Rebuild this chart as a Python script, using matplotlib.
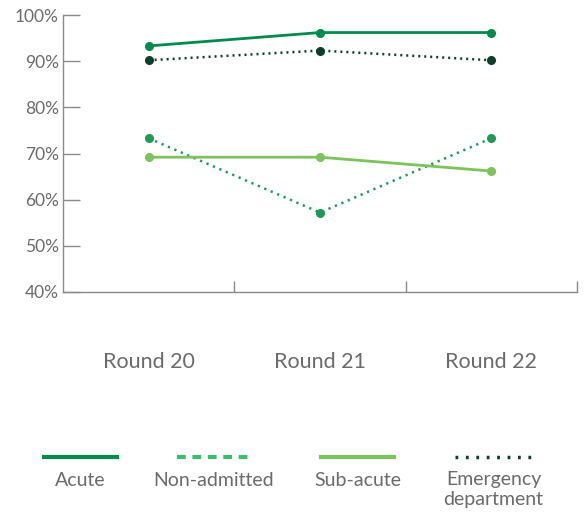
import matplotlib
matplotlib.use("Agg")
import matplotlib.pyplot as plt
from matplotlib.lines import Line2D

rounds = ["Round 20", "Round 21", "Round 22"]
acute = [93.3, 96.2, 96.2]
non_admitted = [73.3, 57.2, 73.3]
sub_acute = [69.2, 69.2, 66.2]
emergency = [90.2, 92.3, 90.2]
y_ticks = [40, 50, 60, 70, 80, 90, 100]
legend_labels = ["Acute", "Non-admitted", "Sub-acute", "Emergency\ndepartment"]

c_acute = "#038a4c"
c_non = "#1f9a55"
c_non_leg = "#3dbb6e"
c_sub = "#7cc35b"
c_ed = "#0b3f2b"
grey = "#6b6b6b"
axis_c = "#8a8a8a"

plt.rcParams['font.family'] = ['Lato', 'DejaVu Sans']

fig = plt.figure(figsize=(5.87, 5.15), dpi=100)
W, H = 587, 515
ax = fig.add_axes([63 / W, 1 - 292 / H, (577 - 63) / W, (292 - 15) / H])

x = [0.5, 1.5, 2.5]
ax.plot(x, acute, color=c_acute, lw=2.0, marker='o', ms=5.5, zorder=4)
ax.plot(x, non_admitted, color=c_non, lw=1.8, linestyle=(0, (0.9, 1.9)), marker='o', ms=5.5, zorder=3)
ax.plot(x, sub_acute, color=c_sub, lw=2.0, marker='o', ms=5.5, zorder=3)
ax.plot(x, emergency, color=c_ed, lw=1.8, linestyle=(0, (0.8, 1.6)), marker='o', ms=5.5, zorder=3)

ax.set_xlim(0, 3)
ax.set_ylim(40, 100)
ax.set_yticks(y_ticks)
ax.set_yticklabels([f"{v}%" for v in y_ticks], fontsize=12.5, color=grey)
ax.set_xticks([1, 2, 3])
ax.set_xticklabels([])
ax.tick_params(axis='y', direction='in', length=12, width=1, color=axis_c, pad=3)
ax.tick_params(axis='x', direction='in', length=8, width=1, color=axis_c)
for s in ['top', 'right']:
    ax.spines[s].set_visible(False)
for s in ['left', 'bottom']:
    ax.spines[s].set_color(axis_c)
    ax.spines[s].set_linewidth(1)

for xi, lab in zip(x, rounds):
    fig.text((63 + xi / 3 * (577 - 63)) / W, 1 - 362 / H, lab, ha='center', va='center',
             fontsize=15.5, color=grey)

# legend
leg_x = [(44, 117), (177, 250), (321, 394), (455, 532)]
styles = [dict(color=c_acute, lw=3, ls='-'),
          dict(color=c_non_leg, lw=3, ls=(0, (2.1, 1.6))),
          dict(color=c_sub, lw=3, ls='-'),
          dict(color=c_ed, lw=2.5, ls=(0, (0.8, 2.2)))]
ly = 1 - 457 / H
for (x0, x1), st, lab in zip(leg_x, styles, legend_labels):
    fig.add_artist(Line2D([x0 / W, x1 / W], [ly, ly], transform=fig.transFigure, **st))
    for i, line in enumerate(lab.split("\n")):
        fig.text((x0 + x1) / 2 / W, 1 - (480 + 20 * i) / H, line, ha='center', va='center',
                 fontsize=14, color=grey)

fig.savefig("out.png", dpi=100)
